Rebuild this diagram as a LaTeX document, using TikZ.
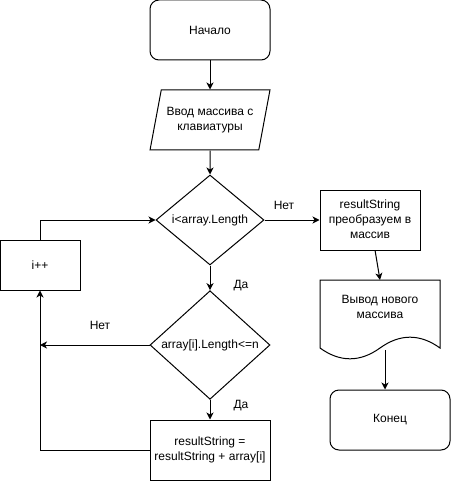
\documentclass[tikz,border=0pt]{standalone}
\usepackage{fontspec}
\setmainfont{Liberation Sans}
\usepackage{tikz}
\usetikzlibrary{arrows.meta, shapes.geometric}
\tikzset{
    term/.style={draw, rounded corners=9pt, minimum width=120pt, minimum height=60pt, inner sep=0pt}, % начало и конец
    inbox/.style={draw, trapezium, trapezium left angle=71.57, trapezium right angle=108.43, trapezium stretches=true, minimum width=120pt, minimum height=60pt, inner sep=0pt}, % ввод
    cond/.style={draw, diamond, minimum width=120pt, minimum height=90pt, inner sep=0pt}, % условие
    proc/.style={draw, rectangle, minimum width=120pt, minimum height=60pt, inner sep=0pt}, % действие
    flow/.style={-{Stealth[length=7pt, width=7pt, inset=2pt]}} % стрелка
}

\begin{document}
\begin{tikzpicture}[x=1pt, y=-1pt, line width=1pt, font=\fontsize{12pt}{15pt}\selectfont]
            \useasboundingbox (0,0) rectangle (451,481);

            \node[term] (start) at (210,30) {Начало};
            \node[inbox] (input) at (210,120) {\begin{tabular}{@{}c@{}}Ввод массива с\\клавиатуры\end{tabular}};
            \node[cond, minimum width=108pt] (loop) at (210,220) {i<array.Length};
            \node[cond] (test) at (210,345) {array[i].Length<=n};
            \node[proc] (calc) at (210,450) {\begin{tabular}{@{}c@{}}resultString =\\resultString + array[i]\end{tabular}};
            \node[proc, minimum width=80pt, minimum height=50pt] (inc) at (40,265) {i++};
            \node[proc, minimum width=100pt] (conv) at (370,220) {\begin{tabular}{@{}c@{}}resultString\\преобразуем в\\массив\end{tabular}};
            \node[term] (stop) at (390,420) {Конец};

            % документ с волнистым низом
            \draw (320,348) -- (320,280) -- (440,280) -- (440,348) .. controls (420,333.6) and (400,333.6) .. (380,348) .. controls (360,362.4) and (340,362.4) .. (320,348);
            \node (outdoc) at (380,308) {\begin{tabular}{@{}c@{}}Вывод нового\\массива\end{tabular}};
            \coordinate (docin) at (380,280);
            \coordinate (docout) at (385,350);
            \coordinate (back) at (inc.south |- test.west);

            \draw[flow] (start) -- (input);
            \draw[flow] (input) -- (loop);
            \draw[flow] (loop) -- (conv);
            \draw[flow] (loop) -- (test);
            \draw[flow] (test) -- (calc);
            \draw[flow] (test) -- (back);
            \draw[flow] (calc.west) -| (inc.south);
            \draw[flow] (inc.north) |- (loop.west);
            \draw[flow] (conv) -- (docin);
            \draw[flow] (docout) -- (stop.north -| docout);

            \node (no1) at (284,205) {Нет};
            \node (yes1) at (241,286) {Да};
            \node (no2) at (100,325) {Нет};
            \node (yes2) at (241,406) {Да};
        \end{tikzpicture}
\end{document}
